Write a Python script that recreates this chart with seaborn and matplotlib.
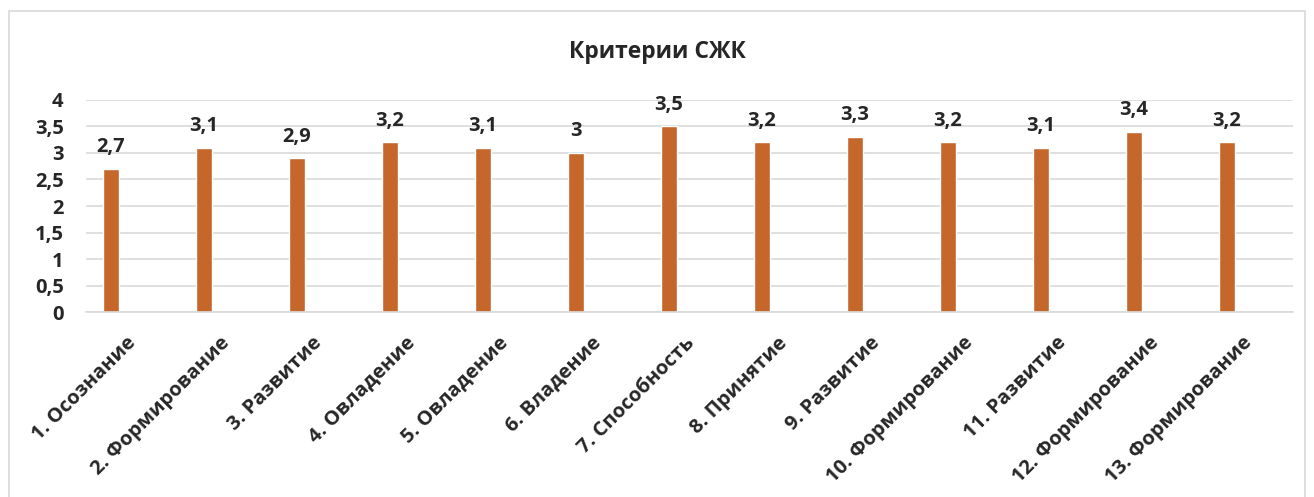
import matplotlib
matplotlib.use("Agg")
import matplotlib.pyplot as plt
import matplotlib.transforms as mtransforms
import seaborn as sns
import pandas as pd
from matplotlib.patches import Rectangle
from matplotlib.ticker import FuncFormatter

categories = ["1. Осознание", "2. Формирование", "3. Развитие", "4. Овладение",
              "5. Овладение", "6. Владение", "7. Способность", "8. Принятие",
              "9. Развитие", "10. Формирование", "11. Развитие", "12. Формирование",
              "13. Формирование"]
values = [2.7, 3.1, 2.9, 3.2, 3.1, 3.0, 3.5, 3.2, 3.3, 3.2, 3.1, 3.4, 3.2]
y_ticks = [0, 0.5, 1, 1.5, 2, 2.5, 3, 3.5, 4]

df = pd.DataFrame({"cat": categories, "val": values})

sns.set_style("white")
plt.rcParams['font.family'] = ['Open Sans', 'DejaVu Sans']
plt.rcParams['font.weight'] = 'bold'

fig = plt.figure(figsize=(13.14, 4.97), dpi=100)
ax = fig.add_axes([0.0654, 0.372, 0.9186, 0.427])

sns.barplot(data=df, x="cat", y="val", color="#C5672B", width=0.17, ax=ax, saturation=1)

ax.set_xlim(-0.27, 12.71)
ax.set_ylim(0, 4)
ax.set_yticks(y_ticks)
ax.yaxis.set_major_formatter(FuncFormatter(lambda v, p: f"{v:g}".replace(".", ",")))
ax.yaxis.grid(True, color="#D9D9D9", linewidth=1.2)
ax.set_axisbelow(True)
for s in ["top", "right", "left"]:
    ax.spines[s].set_visible(False)
ax.spines["bottom"].set_color("#D9D9D9")
ax.spines["bottom"].set_linewidth(1.2)
ax.tick_params(axis="y", length=0, labelsize=14.5, pad=16)
ax.tick_params(axis="x", length=0, labelsize=14.5, pad=15)
ax.set_xlabel("")
ax.set_ylabel("")
shift = mtransforms.ScaledTranslation(11 / 72, 0, fig.dpi_scale_trans)
for lbl in ax.get_xticklabels():
    lbl.set_rotation(45)
    lbl.set_ha("right")
    lbl.set_rotation_mode("anchor")
    lbl.set_fontweight("bold")
    lbl.set_transform(lbl.get_transform() + shift)
plt.setp(ax.get_yticklabels(), fontweight="bold")

for i, v in enumerate(values):
    ax.annotate(f"{v:g}".replace(".", ","), (i, v), xytext=(0, 12), textcoords="offset points",
                ha="center", va="baseline", fontsize=14.5, fontweight="bold")

fig.text(0.5, 0.895, "Критерии СЖК", ha="center", va="center", fontsize=16.5, fontweight="bold")

fig.patches.append(Rectangle((0.007, -0.05), 0.986, 1.028, transform=fig.transFigure,
                             fill=False, edgecolor="#D9D9D9", linewidth=1.2))

fig.savefig("out.png", dpi=100)
